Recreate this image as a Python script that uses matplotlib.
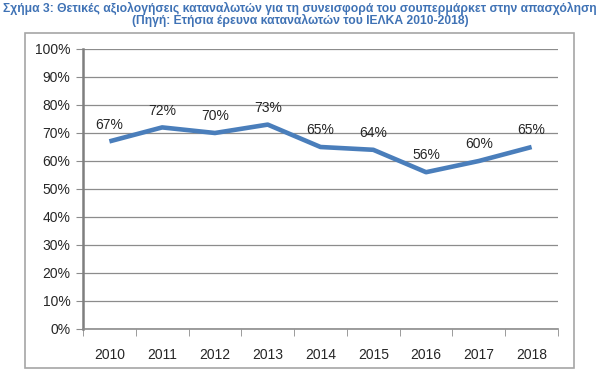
import matplotlib.pyplot as plt
from matplotlib.patches import Rectangle

plt.rcParams['font.family'] = ['Liberation Sans', 'DejaVu Sans']

years = ["2010", "2011", "2012", "2013", "2014", "2015", "2016", "2017", "2018"]
values = [0.67, 0.72, 0.70, 0.73, 0.65, 0.64, 0.56, 0.60, 0.65]
title1 = "Σχήμα 3: Θετικές αξιολογήσεις καταναλωτών για τη συνεισφορά του σουπερμάρκετ στην απασχόληση"
title2 = "(Πηγή: Ετήσια έρευνα καταναλωτών του ΙΕΛΚΑ 2010-2018)"

fig = plt.figure(figsize=(6, 3.75), dpi=100)

# outer chart frame
fig.patches.append(Rectangle((25 / 600, 7 / 375), 549 / 600, 335 / 375,
                             transform=fig.transFigure, fill=False,
                             edgecolor='#a6a6a6', linewidth=1.2))

fig.text(0.5, 1 - 8 / 375, title1, ha='center', va='center', fontsize=8.7,
         fontweight='bold', color='#3f72b5')
fig.text(0.5, 1 - 20 / 375, title2, ha='center', va='center', fontsize=8.7,
         fontweight='bold', color='#3f72b5')

ax = fig.add_axes([83 / 600, 1 - 329 / 375, 475 / 600, 280 / 375])
x = list(range(len(years)))
ax.plot(x, values, color='#4a7ebb', linewidth=3.3, solid_capstyle='butt')
for xi, v in zip(x, values):
    ax.text(xi, v + 0.035, f"{round(v * 100)}%", ha='center', va='bottom',
            fontsize=10, color='#262626')

ax.set_xlim(-0.5, len(years) - 0.5)
ax.set_ylim(0, 1)
ax.set_yticks([i / 10 for i in range(11)])
ax.set_yticklabels([f"{i * 10}%" for i in range(11)], fontsize=10, color='#262626')
ax.set_xticks(x)
ax.set_xticklabels(years, fontsize=10, color='#262626')
ax.set_xticks([i - 0.5 for i in range(len(years) + 1)], minor=True)
ax.tick_params(axis='x', which='major', length=0, pad=14)
ax.tick_params(axis='x', which='minor', length=5, color='#8c8c8c')
ax.tick_params(axis='y', length=5, color='#8c8c8c', pad=4)

ax.grid(axis='y', color='#8c8c8c', linewidth=0.9)
ax.set_axisbelow(True)
for s in ['top', 'right']:
    ax.spines[s].set_visible(False)
ax.spines['left'].set_color('#7f7f7f')
ax.spines['left'].set_linewidth(1.8)
ax.spines['bottom'].set_color('#8c8c8c')
ax.spines['bottom'].set_linewidth(1.2)

fig.savefig("out.png", dpi=100)
